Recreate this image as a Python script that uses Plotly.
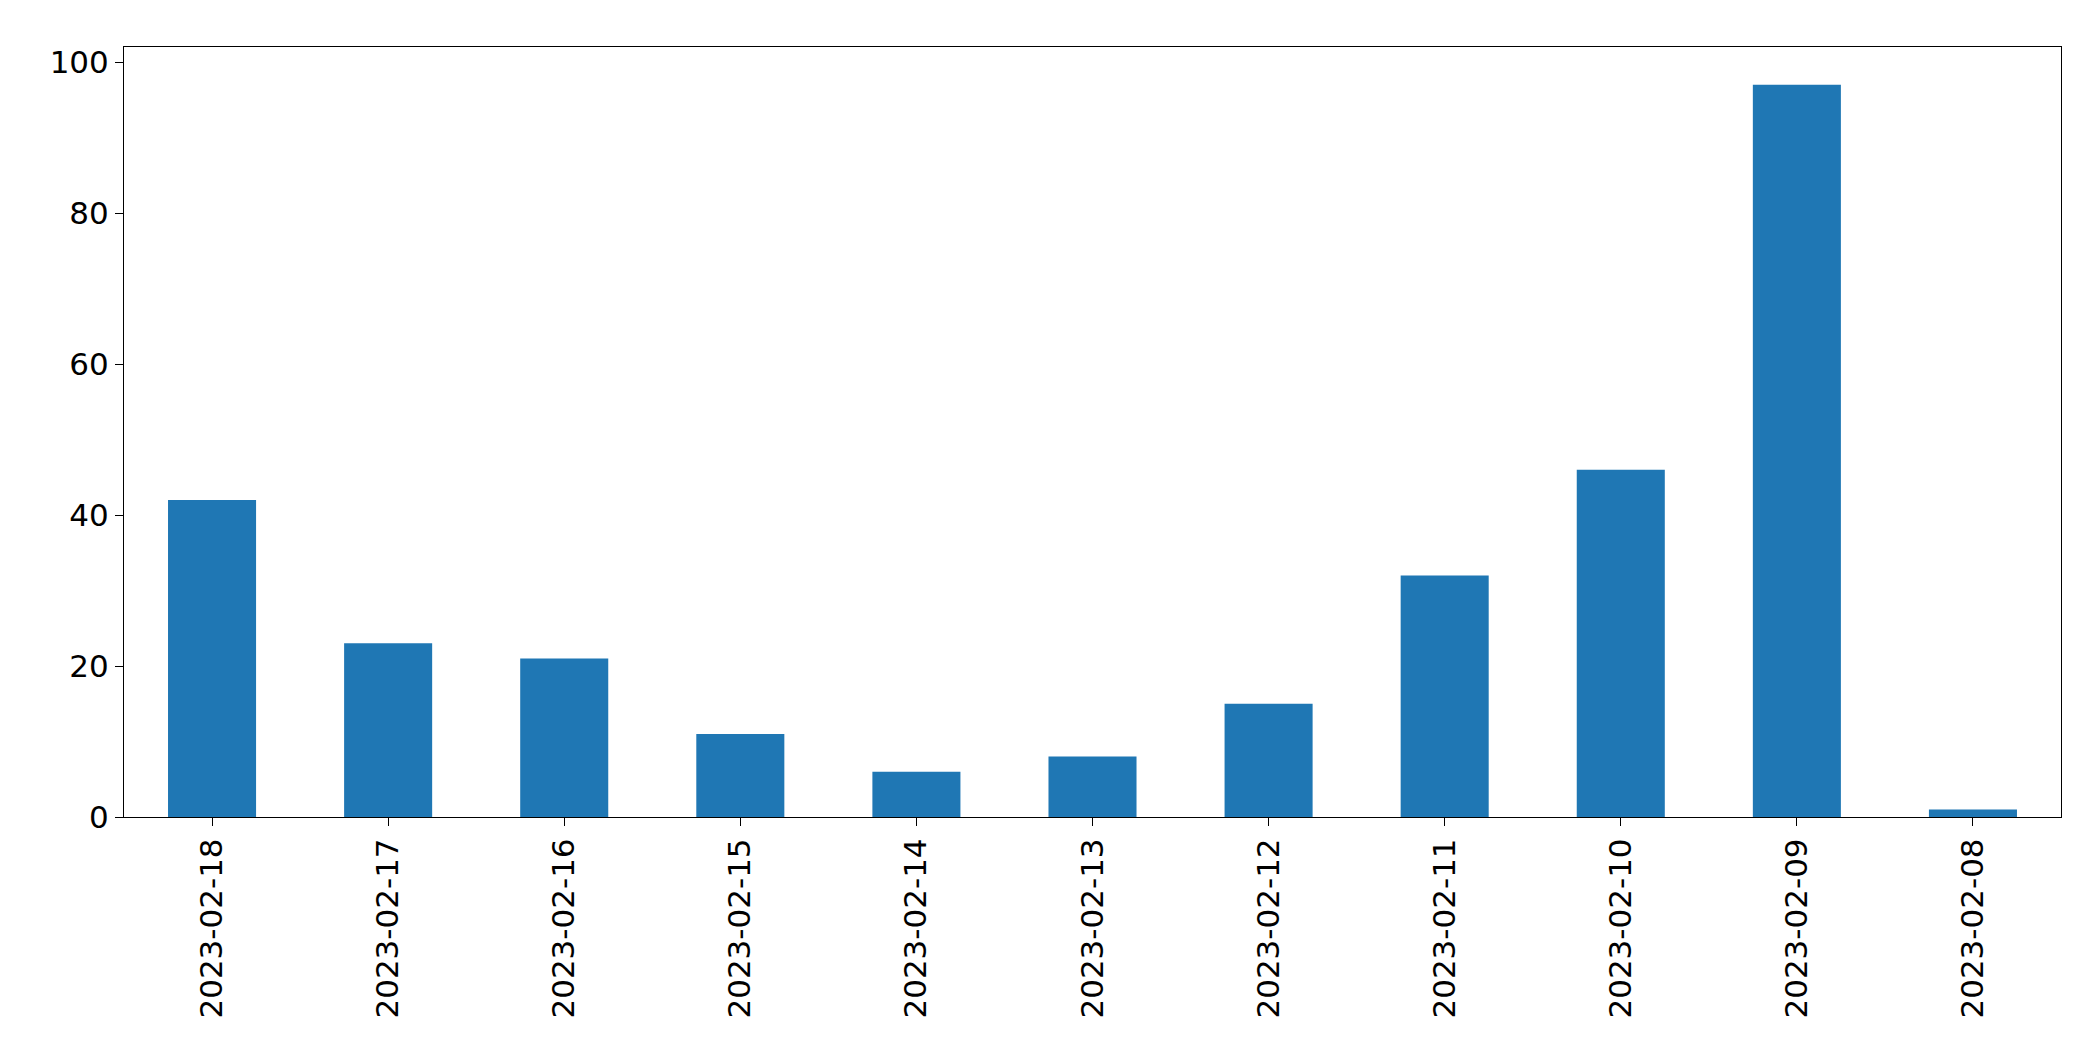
import plotly.graph_objects as go

dates = ["2023-02-18","2023-02-17","2023-02-16","2023-02-15","2023-02-14","2023-02-13",
         "2023-02-12","2023-02-11","2023-02-10","2023-02-09","2023-02-08"]
counts = [42, 23, 21, 11, 6, 8, 15, 32, 46, 97, 1]

fig = go.Figure(go.Bar(x=dates, y=counts, width=0.5, marker_color="#1f77b4", marker_line_width=0))
fig.update_layout(
    width=2093, height=1061, plot_bgcolor="white", paper_bgcolor="white",
    margin=dict(l=116, r=40, t=39, b=252),
    font=dict(family="DejaVu Sans", size=31, color="black"),
    showlegend=False,
)
fig.update_xaxes(type="category", range=[-0.5, 10.5], tickangle=-90, showline=True, mirror=True,
                 linecolor="black", linewidth=1, ticks="outside", ticklen=8, tickcolor="black", showgrid=False)
fig.update_yaxes(range=[0, 102], tickvals=[0,20,40,60,80,100], showline=True, mirror=True,
                 linecolor="black", linewidth=1, ticks="outside", ticklen=8, tickcolor="black",
                 showgrid=False, zeroline=False)
fig.write_html("out.html")
